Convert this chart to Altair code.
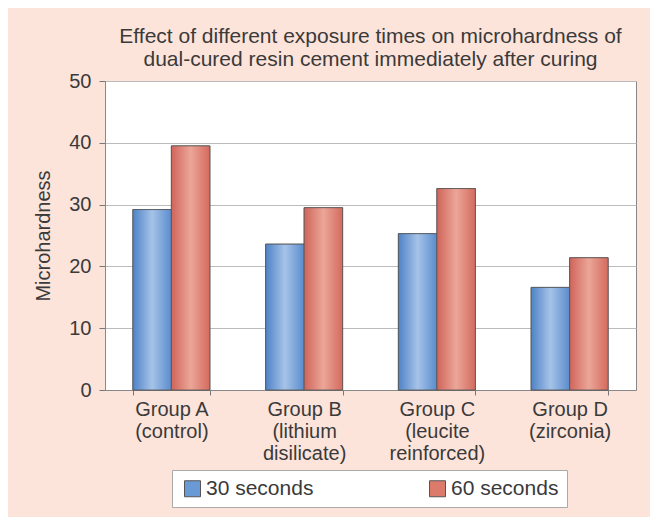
import altair as alt
import pandas as pd

groups = ["Group A\n(control)", "Group B\n(lithium\ndisilicate)", "Group C\n(leucite\nreinforced)", "Group D\n(zirconia)"]
series = ["30 seconds", "60 seconds"]
values_30 = [29.2, 23.6, 25.3, 16.6]
values_60 = [39.5, 29.5, 32.6, 21.4]
y_ticks = [0, 10, 20, 30, 40, 50]

rows = []
for g, a, b in zip(groups, values_30, values_60):
    rows.append({"group": g, "series": series[0], "value": a})
    rows.append({"group": g, "series": series[1], "value": b})
df = pd.DataFrame(rows)

blue_grad = alt.Gradient(gradient="linear", x1=0, x2=1, y1=0, y2=0, stops=[
    alt.GradientStop(offset=0, color="#4f82c6"),
    alt.GradientStop(offset=0.5, color="#a6c3e8"),
    alt.GradientStop(offset=1, color="#5a8ccd"),
])
red_grad = alt.Gradient(gradient="linear", x1=0, x2=1, y1=0, y2=0, stops=[
    alt.GradientStop(offset=0, color="#d0645a"),
    alt.GradientStop(offset=0.5, color="#eba698"),
    alt.GradientStop(offset=1, color="#d46a5e"),
])

FONT = "Liberation Sans"

x_enc = alt.X("group:N", sort=groups, title=None,
              scale=alt.Scale(paddingInner=0.42, paddingOuter=0.21),
              axis=alt.Axis(labelAngle=0, labelFontSize=20, labelColor="#3a3a3a",
                            labelExpr="split(datum.label, '\\n')",
                            labelLineHeight=22, labelPadding=4, labelBaseline="top",
                            tickBand="extent", tickSize=5, tickColor="#777777",
                            domainColor="#888888", labelFont=FONT))
y_enc = alt.Y("value:Q", title="Microhardness",
              scale=alt.Scale(domain=[0, 50], nice=False),
              axis=alt.Axis(values=y_ticks, labelFontSize=20, labelColor="#3a3a3a",
                            titleFontSize=20, titleColor="#3a3a3a", titleFontWeight="normal",
                            titlePadding=15, tickSize=6, tickColor="#777777",
                            domainColor="#888888", gridColor="#bbbbbb", labelPadding=8,
                            labelFont=FONT, titleFont=FONT))
xo = alt.XOffset("series:N", sort=series)

base = alt.Chart(df).mark_bar(stroke="#555555", strokeWidth=0.8).encode(
    x=x_enc, y=y_enc, xOffset=xo,
    color=alt.Color("series:N", sort=series, title=None,
                    scale=alt.Scale(domain=series, range=["#6a9ad6", "#dc7a6c"]),
                    legend=alt.Legend(orient="none", legendX=67, legendY=389,
                                      direction="horizontal", columns=2, columnPadding=111,
                                      symbolType="square", symbolSize=256,
                                      symbolStrokeColor="#555555", symbolStrokeWidth=1,
                                      labelFontSize=21, labelColor="#3a3a3a",
                                      labelFont=FONT, labelLimit=300,
                                      fillColor="white", strokeColor="#aaaaaa",
                                      padding=8, symbolOffset=2, labelOffset=3)),
)

overlay = alt.Chart(df).mark_bar(stroke="#555555", strokeWidth=0.8).encode(
    x=alt.X("group:N", sort=groups), y="value:Q", xOffset=xo,
    fill=alt.condition(alt.datum.series == "30 seconds", alt.value(blue_grad), alt.value(red_grad)),
)

chart = alt.layer(base, overlay).properties(
    width=531, height=309,
    title=alt.TitleParams(
        text=["Effect of different exposure times on microhardness of",
              "dual-cured resin cement immediately after curing"],
        fontSize=21, fontWeight="normal", color="#3a3a3a", font=FONT,
        lineHeight=23, anchor="middle", offset=1),
    autosize=alt.AutoSizeParams(type="none"),
    padding={"left": 97, "top": 73, "right": 14, "bottom": 127},
    background="#fde4db",
).configure_view(stroke="#888888", fill="white")

chart.save("out.html", embed_options={"renderer": "svg", "actions": False})
